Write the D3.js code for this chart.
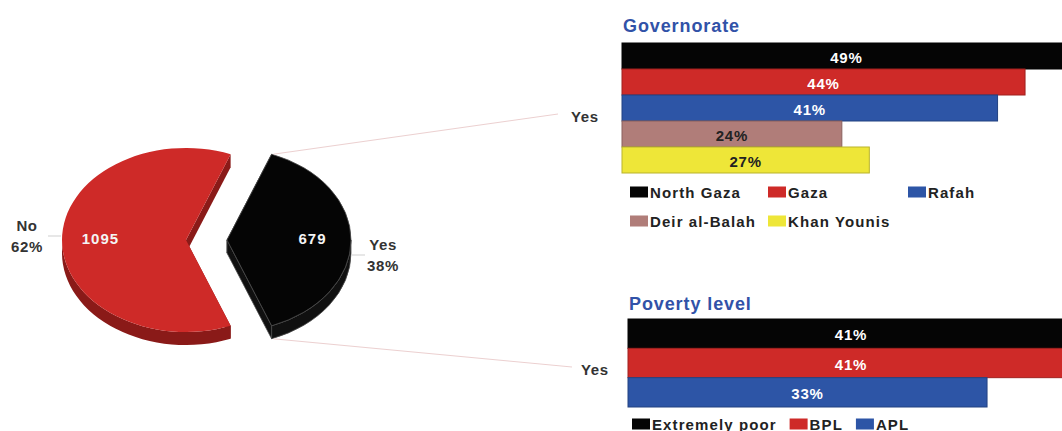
<!DOCTYPE html>
<html>
<head>
<meta charset="utf-8">
<script src="https://cdn.jsdelivr.net/npm/d3@7"></script>
<style>
  html, body { margin: 0; padding: 0; background: #fff; }
  svg { display: block; font-family: "Liberation Sans", Arial, Helvetica, sans-serif; font-weight: bold; }
</style>
</head>
<body>
<svg id="chart" width="1062" height="431"></svg>
<script>
// ---- data ----
const pieLabels = ["No", "Yes"];
const pieCounts = [1095, 679];
const piePercents = ["62%", "38%"];
const pieColors = ["#CE2A28", "#050505"];
const pieSideColors = ["#8A1A18", "#101010"];

const governorates = ["North Gaza", "Gaza", "Rafah", "Deir al-Balah", "Khan Younis"];
const governorateValues = [49, 44, 41, 24, 27];
const governorateColors = ["#050505", "#CE2A28", "#2D55A6", "#B07D79", "#EEE638"];
const governorateLabelColors = ["#fff", "#fff", "#fff", "#222", "#222"];

const povertyLevels = ["Extremely poor", "BPL", "APL"];
const povertyValues = [41, 41, 33];
const povertyColors = ["#050505", "#CE2A28", "#2D55A6"];
const povertyLabelColors = ["#fff", "#fff", "#fff"];

const svg = d3.select("#chart");

// ---- exploded 3D pie ----
const pie = {
  cx: 206.5, cy: 240, rx: 124, ry: 92, depth: 13, explode: 20.5
};
const total = d3.sum(pieCounts);
const fracNo = pieCounts[0] / total, fracYes = pieCounts[1] / total;
// rotate so the "Yes" slice is centred on the right (3 o'clock)
const start = Math.PI / 2 - 2 * Math.PI * fracNo - Math.PI * fracYes;
const arcs = d3.pie().sort(null).startAngle(start).endAngle(start + 2 * Math.PI)(pieCounts);

function pt(c, a, dy = 0) {
  return [c[0] + pie.rx * Math.sin(a), c[1] - pie.ry * Math.cos(a) + dy];
}
function arcTo(p, a0, a1, sweep) {
  const large = Math.abs(a1 - a0) > Math.PI ? 1 : 0;
  return `A${pie.rx},${pie.ry} 0 ${large} ${sweep} ${p[0]},${p[1]}`;
}

const pieG = svg.append("g");
const sliceGeom = [];
arcs.forEach((d, i) => {
  const mid = (d.startAngle + d.endAngle) / 2;
  const c = [pie.cx + pie.explode * Math.sin(mid), pie.cy - pie.explode * Math.cos(mid)];
  const g = pieG.append("g");
  const side = pieSideColors[i];
  const edge = i === 1 ? "#4a4a4a" : "none";
  // radial walls
  [d.startAngle, d.endAngle].forEach(a => {
    const p = pt(c, a), pd = pt(c, a, pie.depth);
    g.append("path")
      .attr("d", `M${c[0]},${c[1]}L${p[0]},${p[1]}L${pd[0]},${pd[1]}L${c[0]},${c[1] + pie.depth}Z`)
      .attr("fill", side).attr("stroke", edge).attr("stroke-width", 0.8);
  });
  // outer wall, front half only (angles between pi/2 and 3pi/2, modulo 2pi)
  const norm = a => ((a % (2 * Math.PI)) + 2 * Math.PI) % (2 * Math.PI);
  let s0 = norm(d.startAngle), s1 = s0 + (d.endAngle - d.startAngle);
  const b0 = Math.max(s0, Math.PI / 2), b1 = Math.min(s1, 3 * Math.PI / 2);
  if (b1 > b0) {
    const p0 = pt(c, b0), p1 = pt(c, b1), p1d = pt(c, b1, pie.depth), p0d = pt(c, b0, pie.depth);
    g.append("path")
      .attr("d", `M${p0[0]},${p0[1]}${arcTo(p1, b0, b1, 1)}L${p1d[0]},${p1d[1]}${arcTo(p0d, b0, b1, 0)}Z`)
      .attr("fill", side).attr("stroke", edge).attr("stroke-width", 0.8);
  }
  // top face
  const pa = pt(c, d.startAngle), pb = pt(c, d.endAngle);
  g.append("path")
    .attr("d", `M${c[0]},${c[1]}L${pa[0]},${pa[1]}${arcTo(pb, d.startAngle, d.endAngle, 1)}Z`)
    .attr("fill", pieColors[i]).attr("stroke", edge).attr("stroke-width", 0.8);
  // count label inside slice
  const lp = [c[0] + pie.rx * 0.69 * Math.sin(mid), c[1] - pie.ry * 0.69 * Math.cos(mid)];
  g.append("text")
    .attr("x", lp[0]).attr("y", lp[1] - 2)
    .attr("text-anchor", "middle").attr("dominant-baseline", "central")
    .attr("font-size", 15).attr("letter-spacing", 1)
    .attr("fill", "#f4f4f4")
    .text(pieCounts[i]);
  sliceGeom.push({ c, mid, d });
});

// outside category labels with short leader lines
sliceGeom.forEach((s, i) => {
  const dir = Math.sin(s.mid) > 0 ? 1 : -1;
  const rim = pt(s.c, s.mid);
  const y = rim[1] + (dir > 0 ? 15 : -4);
  const x0 = rim[0] + dir * 1, x1 = rim[0] + dir * 14;
  svg.append("line")
    .attr("x1", x0).attr("y1", y).attr("x2", x1).attr("y2", y)
    .attr("stroke", "#cfcfcf").attr("stroke-width", 1);
  const tx = dir > 0 ? x1 + 18 : x1 - 21;
  const t = svg.append("text")
    .attr("text-anchor", "middle").attr("font-size", 15).attr("letter-spacing", 0.6)
    .attr("fill", "#333");
  t.append("tspan").attr("x", tx).attr("y", y - 5).text(pieLabels[i]);
  t.append("tspan").attr("x", tx).attr("y", y + 16).text(piePercents[i]);
});

// ---- horizontal bar panels ----
function barPanel(opt) {
  const x = d3.scaleLinear().domain([0, 100]).range([opt.x0, opt.x0 + opt.pxPer100]);
  const y = d3.scaleBand().domain(opt.categories).range([opt.y0, opt.y1]).padding(0);
  const g = svg.append("g");
  g.append("text")
    .attr("x", opt.x0 + 1).attr("y", opt.titleY)
    .attr("font-size", 18).attr("letter-spacing", 0.9)
    .attr("fill", "#3152A8").text(opt.title);
  g.selectAll("rect.bar").data(opt.categories).join("rect")
    .attr("class", "bar")
    .attr("x", x(0)).attr("y", c => y(c))
    .attr("width", (c, i) => x(opt.values[i]) - x(0))
    .attr("height", y.bandwidth())
    .attr("fill", (c, i) => opt.colors[i])
    .attr("stroke", (c, i) => d3.color(opt.colors[i]).darker(0.7))
    .attr("stroke-width", 1);
  g.selectAll("text.val").data(opt.categories).join("text")
    .attr("class", "val")
    .attr("x", (c, i) => (x(0) + x(opt.values[i])) / 2)
    .attr("y", c => y(c) + y.bandwidth() / 2 + 1)
    .attr("text-anchor", "middle").attr("dominant-baseline", "central")
    .attr("font-size", 15).attr("letter-spacing", 0.8)
    .attr("fill", (c, i) => opt.labelColors[i])
    .text((c, i) => opt.values[i] + "%");
  return { x, y };
}

const gov = barPanel({
  title: "Governorate", titleY: 32,
  categories: governorates, values: governorateValues,
  colors: governorateColors, labelColors: governorateLabelColors,
  x0: 622, pxPer100: 916, y0: 43, y1: 173
});
const pov = barPanel({
  title: "Poverty level", titleY: 310,
  categories: povertyLevels, values: povertyValues,
  colors: povertyColors, labelColors: povertyLabelColors,
  x0: 628, pxPer100: 1088, y0: 319, y1: 407
});

// "Yes" callout labels for each panel, joined back to the Yes slice
const yes = sliceGeom[1];
const topCorner = pt(yes.c, yes.d.startAngle);
const botCorner = pt(yes.c, yes.d.endAngle, pie.depth);
function callout(p, tx, ty, lx) {
  svg.append("line")
    .attr("x1", p[0] + 2).attr("y1", p[1]).attr("x2", lx).attr("y2", ty - 2)
    .attr("stroke", "#ecd0d0").attr("stroke-width", 1);
  svg.append("text")
    .attr("x", tx).attr("y", ty).attr("dominant-baseline", "central")
    .attr("font-size", 15).attr("letter-spacing", 0.6).attr("fill", "#333")
    .text(pieLabels[1]);
}
callout(topCorner, 571, 116, 558);
callout(botCorner, 581, 369, 572);

// ---- legends ----
function legendItem(g, x, yMid, color, label) {
  g.append("rect").attr("x", x).attr("y", yMid - 5.5).attr("width", 18).attr("height", 11).attr("fill", color);
  return g.append("text")
    .attr("x", x + 20).attr("y", yMid).attr("dominant-baseline", "central")
    .attr("font-size", 15).attr("letter-spacing", 1.1).attr("fill", "#222")
    .text(label);
}
const govLegend = svg.append("g");
const govCols = [630, 768, 908], govRows = [192, 221];
governorates.forEach((name, i) => {
  legendItem(govLegend, govCols[i % 3 === 0 || i === 3 ? 0 : (i === 4 ? 1 : i)], govRows[i < 3 ? 0 : 1], governorateColors[i], name);
});

const povLegend = svg.append("g");
let lx = 632;
povertyLevels.forEach((name, i) => {
  const t = legendItem(povLegend, lx, 424, povertyColors[i], name);
  lx += 20 + t.node().getComputedTextLength() + 13;
});
</script>
</body>
</html>
